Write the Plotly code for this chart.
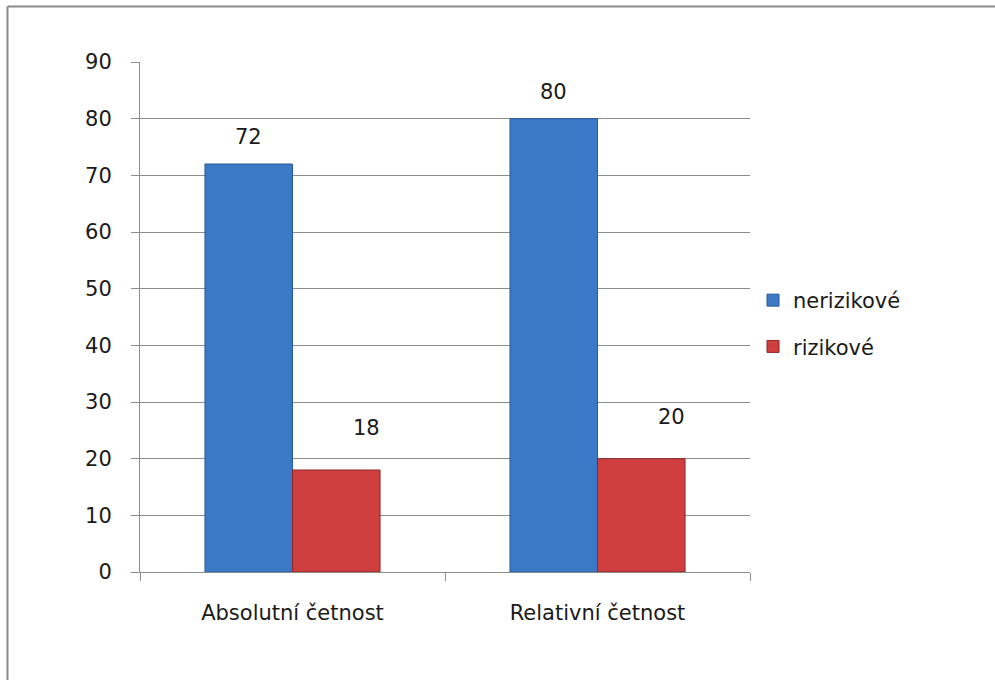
import plotly.graph_objects as go

# Chart data
categories = ["Absolutní četnost", "Relativní četnost"]
series_names = ["nerizikové", "rizikové"]
nerizikove = [72, 80]
rizikove = [18, 20]

series_values = [nerizikove, rizikove]
fill_colors = ["#3b78c6", "#cf3f3f"]
edge_colors = ["#2a5a9a", "#8f2626"]
# label placement relative to the top of each bar (pixels)
label_dx = [0, 30]
label_dy = [27, 42]

FONT = "'DejaVu Sans', sans-serif"
FS = 21
GRID = "#8c8c8c"
TXT = "#1a1a1a"

fig = go.Figure()
for i, (name, vals) in enumerate(zip(series_names, series_values)):
    fig.add_trace(go.Bar(
        x=categories, y=vals, name=name,
        legendgroup=name,
        marker=dict(color=fill_colors[i], line=dict(color=edge_colors[i], width=1)),
    ))

# value labels above the bars
bar_px = 88
for i, vals in enumerate(series_values):
    offset = (-bar_px / 2 if i == 0 else bar_px / 2) + label_dx[i]
    for cat, v in zip(categories, vals):
        fig.add_annotation(
            x=cat, y=v, xref="x", yref="y", text=str(v), showarrow=False,
            xshift=offset, yshift=label_dy[i],
            font=dict(family=FONT, size=FS, color=TXT),
        )

# outer chart frame (left and top edges)
L, R, T, B = 140, 245, 62, 108
W, H = 995 - L - R, 680 - T - B
def px_x(p):
    return (p - L) / W
def px_y(p):
    return (680 - B - p) / H

fig.add_shape(type="line", xref="paper", yref="paper",
              x0=px_x(7.5), x1=px_x(1000), y0=px_y(6.5), y1=px_y(6.5),
              line=dict(color="#8a8a8a", width=2))
fig.add_shape(type="line", xref="paper", yref="paper",
              x0=px_x(7.5), x1=px_x(7.5), y0=px_y(6.5), y1=px_y(700),
              line=dict(color="#8a8a8a", width=2))

fig.update_layout(
    width=995, height=680,
    margin=dict(l=L, r=R, t=T, b=B),
    paper_bgcolor="white", plot_bgcolor="white",
    barmode="group", bargap=0.426, bargroupgap=0,
    font=dict(family=FONT, size=FS, color=TXT),
    showlegend=True,
    legend=dict(
        x=px_x(753), y=px_y(280), xanchor="left", yanchor="top",
        xref="paper", yref="paper",
        font=dict(family=FONT, size=FS, color=TXT),
        tracegroupgap=16, itemwidth=30,
        bgcolor="rgba(0,0,0,0)",
    ),
    xaxis=dict(
        showgrid=False, showline=True, linecolor=GRID, linewidth=1,
        ticks="outside", ticklen=8, tickcolor=GRID, tickson="boundaries",
        ticklabelstandoff=22,
        tickfont=dict(family=FONT, size=FS, color=TXT),
    ),
    yaxis=dict(
        range=[0, 90], dtick=10, tick0=0,
        showgrid=True, gridcolor=GRID, gridwidth=1,
        showline=True, linecolor=GRID, linewidth=1,
        ticks="outside", ticklen=8, tickcolor=GRID,
        ticklabelstandoff=15, zeroline=False,
        tickfont=dict(family=FONT, size=FS, color=TXT),
    ),
)

fig.write_html("out.html")
